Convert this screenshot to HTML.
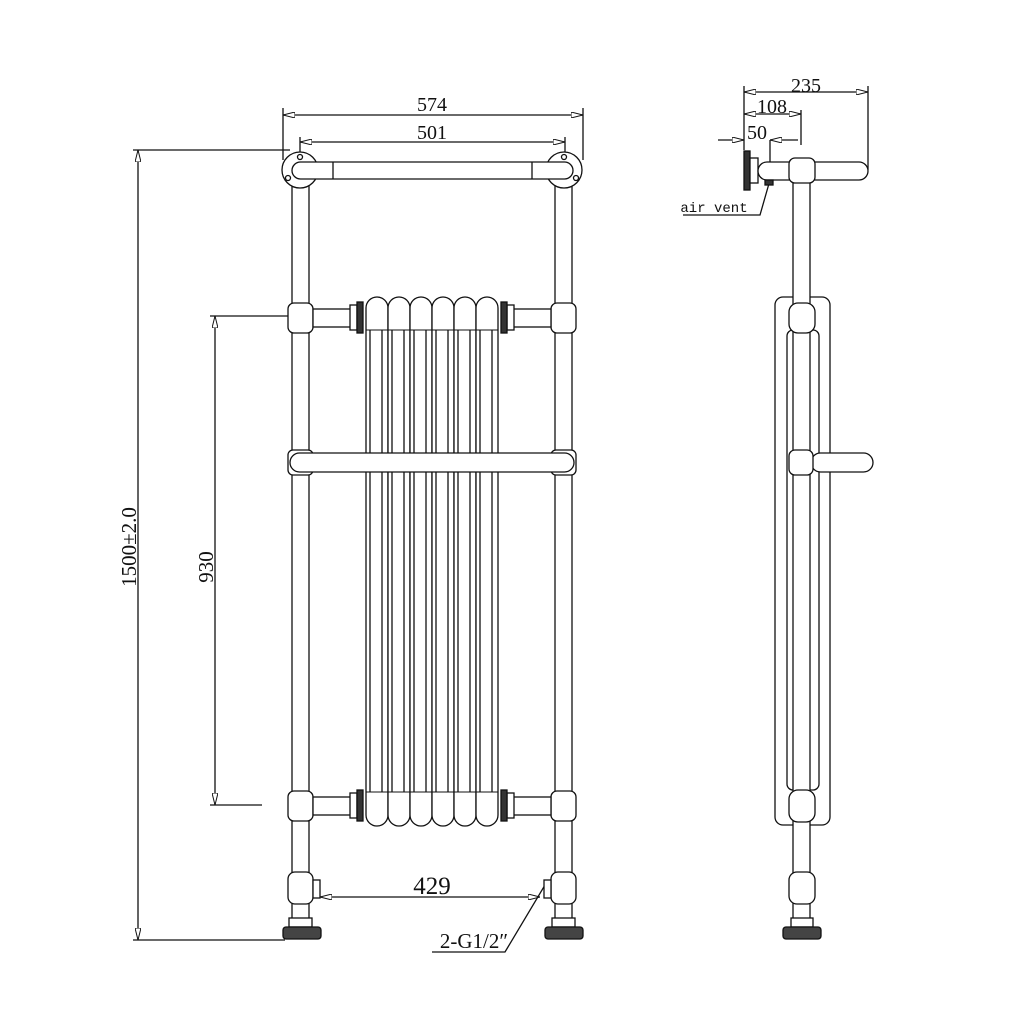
<!DOCTYPE html>
<html><head><style>html,body{margin:0;background:#fff}svg{display:block}</style></head>
<body>
<svg width="1024" height="1024" viewBox="0 0 1024 1024" xmlns="http://www.w3.org/2000/svg" font-family="Liberation Serif, serif" fill="none" stroke="#111" stroke-width="1.3">
<defs>
<marker id="a" viewBox="0 0 12 6" refX="12" refY="3" markerWidth="12" markerHeight="6" orient="auto-start-reverse" markerUnits="userSpaceOnUse"><path d="M0,0 L12,3 L0,6 Z" fill="#fff" stroke="#111" stroke-width="1"/></marker>
</defs>

<!-- Dimensions front -->
<line x1="283" y1="108" x2="283" y2="160"/><line x1="583" y1="108" x2="583" y2="160"/>
<line x1="283" y1="115" x2="583" y2="115" marker-start="url(#a)" marker-end="url(#a)"/>
<line x1="300" y1="137" x2="300" y2="155"/><line x1="565" y1="137" x2="565" y2="155"/>
<line x1="300" y1="142" x2="565" y2="142" marker-start="url(#a)" marker-end="url(#a)"/>
<g fill="#111" stroke="none" font-size="20" text-anchor="middle">
<text x="432" y="111">574</text><text x="432" y="139">501</text>
<text x="432" y="894" font-size="25">429</text>
<text transform="translate(136,547) rotate(-90)" font-size="21">1500±2.0</text>
<text transform="translate(213,567) rotate(-90)" font-size="21">930</text>
<text x="474" y="948" font-size="21">2-G1/2″</text>
<text x="806" y="92">235</text>
<text x="772" y="113">108</text>
<text x="757" y="139">50</text>
<text x="714" y="212" font-size="14" font-family="Liberation Mono, monospace">air vent</text>
</g>
<line x1="133" y1="150" x2="290" y2="150"/><line x1="133" y1="940" x2="285" y2="940"/>
<line x1="138" y1="150" x2="138" y2="940" marker-start="url(#a)" marker-end="url(#a)"/>
<line x1="210" y1="316" x2="290" y2="316"/><line x1="210" y1="805" x2="262" y2="805"/>
<line x1="215" y1="316" x2="215" y2="805" marker-start="url(#a)" marker-end="url(#a)"/>
<line x1="320" y1="897" x2="540" y2="897" marker-start="url(#a)" marker-end="url(#a)"/>
<polyline points="545,885 505,952 432,952"/>

<!-- Front: posts -->
<g fill="#fff">
<rect x="292" y="175" width="17" height="755"/>
<rect x="555" y="175" width="17" height="755"/>
<circle cx="300" cy="170" r="18"/><circle cx="564" cy="170" r="18"/>
<circle cx="300" cy="157" r="2.5"/><circle cx="288" cy="178" r="2.5"/><circle cx="564" cy="157" r="2.5"/><circle cx="576" cy="178" r="2.5"/>
<rect x="292" y="162" width="281" height="17" rx="8.5"/>
<line x1="333" y1="162" x2="333" y2="179"/><line x1="532" y1="162" x2="532" y2="179"/>

<g>
<rect x="366" y="297" width="22" height="529" rx="11"/>
<rect x="388" y="297" width="22" height="529" rx="11"/>
<rect x="410" y="297" width="22" height="529" rx="11"/>
<rect x="432" y="297" width="22" height="529" rx="11"/>
<rect x="454" y="297" width="22" height="529" rx="11"/>
<rect x="476" y="297" width="22" height="529" rx="11"/>
</g>
<g fill="none">
<path d="M370 330V792M382 330V792M392 330V792M404 330V792M414 330V792M426 330V792M436 330V792M448 330V792M458 330V792M470 330V792M480 330V792M492 330V792"/>
<path d="M366 330H498M366 792H498" stroke-width="1"/>
</g>

<g id="c">
<rect x="288" y="303" width="25" height="30" rx="6"/>
<rect x="313" y="309" width="39" height="18"/>
<rect x="350" y="305" width="7" height="25"/>
<rect x="357" y="302" width="6" height="31" fill="#333"/>
</g>
<use href="#c" transform="translate(0,488)"/>
<use href="#c" transform="translate(864,0) scale(-1,1)"/>
<use href="#c" transform="translate(864,488) scale(-1,1)"/>

<rect x="288" y="450" width="25" height="25" rx="5"/>
<rect x="551" y="450" width="25" height="25" rx="5"/>
<rect x="290" y="453" width="284" height="19" rx="9.5"/>

<rect x="288" y="872" width="25" height="32" rx="7"/>
<rect x="551" y="872" width="25" height="32" rx="7"/>
<rect x="313" y="880" width="7" height="18"/>
<rect x="544" y="880" width="7" height="18"/>
<rect x="289" y="918" width="23" height="9"/><rect x="552" y="918" width="23" height="9"/>
<rect x="283" y="927" width="38" height="12" rx="3" fill="#444"/>
<rect x="545" y="927" width="38" height="12" rx="3" fill="#444"/>
</g>

<!-- Side view -->
<line x1="744" y1="86" x2="744" y2="150"/><line x1="868" y1="86" x2="868" y2="170"/>
<line x1="744" y1="92" x2="868" y2="92" marker-start="url(#a)" marker-end="url(#a)"/>
<line x1="801" y1="110" x2="801" y2="145"/>
<line x1="744" y1="114" x2="801" y2="114" marker-start="url(#a)" marker-end="url(#a)"/>
<line x1="718" y1="140" x2="744" y2="140" marker-end="url(#a)"/>
<line x1="798" y1="140" x2="770" y2="140" marker-end="url(#a)"/>
<line x1="770" y1="140" x2="770" y2="170"/>
<polyline points="770,180 760,215 683,215"/>
<g fill="#fff">
<rect x="775" y="297" width="55" height="528" rx="8"/>
<rect x="787" y="330" width="32" height="460" rx="6"/>
<rect x="793" y="175" width="17" height="755"/>
<rect x="744" y="151" width="6" height="39" fill="#333"/>
<rect x="750" y="158" width="8" height="25"/>
<rect x="758" y="162" width="110" height="18" rx="9"/>
<rect x="789" y="158" width="26" height="25" rx="6"/>
<rect x="765" y="180" width="8" height="5" fill="#333"/>
<rect x="789" y="303" width="26" height="30" rx="9"/>
<rect x="789" y="790" width="26" height="32" rx="9"/>
<rect x="811" y="453" width="62" height="19" rx="9.5"/>
<rect x="789" y="450" width="24" height="25" rx="6"/>
<rect x="789" y="872" width="26" height="32" rx="8"/>
<rect x="791" y="918" width="22" height="9"/>
<rect x="783" y="927" width="38" height="12" rx="3" fill="#444"/>
</g>
</svg>
</body></html>
